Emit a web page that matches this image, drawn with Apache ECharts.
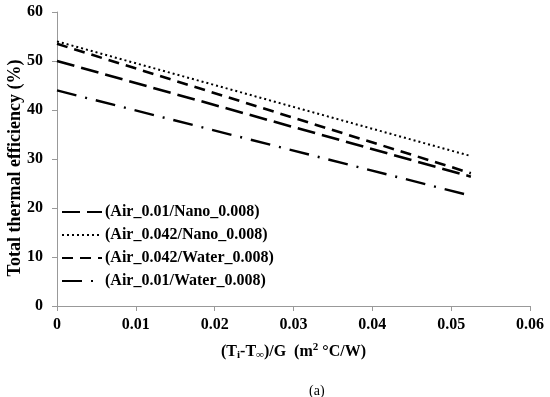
<!DOCTYPE html>
<html><head><meta charset="utf-8">
<script src="https://cdn.jsdelivr.net/npm/echarts@6/dist/echarts.min.js"></script>
<style>html,body{margin:0;padding:0;background:#fff}#c{width:550px;height:397px}</style>
</head><body><div id="c"></div>
<script>
const xValues = [0, 0.0525];
const seriesNames = ['(Air_0.01/Nano_0.008)', '(Air_0.042/Nano_0.008)', '(Air_0.042/Water_0.008)', '(Air_0.01/Water_0.008)'];
const airNano001 = [50, 26.4];
const airNano0042 = [54, 30.6];
const airWater0042 = [53.5, 27.1];
const airWater001 = [44, 22.5];
const yTicks = [0, 10, 20, 30, 40, 50, 60];
const xTicks = [0, 0.01, 0.02, 0.03, 0.04, 0.05, 0.06];
const yTitle = 'Total thermal efficiency (%)';

const font = 'Liberation Serif';
const toPairs = v => xValues.map((x, i) => [x, v[i]]);
const styles = [
  {type: [18, 7], width: 2.6},
  {type: [2, 3], width: 2},
  {type: [11, 7], width: 2.6},
  {type: [20, 9, 2, 9], width: 2.4}
];
const data = [airNano001, airNano0042, airWater0042, airWater001];

const chart = echarts.init(document.getElementById('c'));
chart.setOption({
  animation: false,
  grid: {left: 57, right: 20, top: 12, bottom: 91, containLabel: false, outerBoundsMode: 'none'},
  title: {text: '(a)', left: 304, top: 379, textStyle: {fontFamily: font, fontSize: 14, fontWeight: 'normal', color: '#000'}},
  graphic: [{
    type: 'text', x: 15, y: 168, rotation: Math.PI / 2,
    style: {text: yTitle, fontFamily: font, fontSize: 18, fontWeight: 'bold', fill: '#000', align: 'center', verticalAlign: 'middle'}
  }],
  legend: {
    orient: 'vertical', left: 56, top: 199, itemGap: 7, itemWidth: 40, itemHeight: 17,
    data: seriesNames,
    itemStyle: {opacity: 0},
    textStyle: {fontFamily: font, fontSize: 16, fontWeight: 'bold', color: '#000', padding: [0, 0, 0, -2]}
  },
  xAxis: {
    type: 'value', min: 0, max: 0.06, interval: 0.01,
    axisLine: {lineStyle: {color: '#999'}},
    axisTick: {show: true, lineStyle: {color: '#999'}, length: 5},
    splitLine: {show: false},
    axisLabel: {fontFamily: font, fontSize: 16, fontWeight: 'bold', color: '#000', margin: 11,
      formatter: v => { const s = xTicks.find(t => Math.abs(t - v) < 1e-9); return s === undefined ? '' : String(s); }},
    name: '(T{sub|i}-T{sub|∞})/G  (m{sup|2} °C/W)',
    nameLocation: 'middle', nameGap: 36,
    nameTextStyle: {fontFamily: font, fontSize: 16, fontWeight: 'bold', color: '#000',
      rich: {
        sub: {fontFamily: font, fontSize: 11, fontWeight: 'bold', color: '#000', verticalAlign: 'bottom', padding: [8, 0, 0, 0]},
        sup: {fontFamily: font, fontSize: 11, fontWeight: 'bold', color: '#000', verticalAlign: 'top', padding: [0, 0, 8, 0]}
      }}
  },
  yAxis: {
    type: 'value', min: 0, max: 60, interval: 10,
    axisLine: {show: true, lineStyle: {color: '#999'}},
    axisTick: {show: true, lineStyle: {color: '#999'}, length: 5},
    splitLine: {show: false},
    axisLabel: {fontFamily: font, fontSize: 16, fontWeight: 'bold', color: '#000', margin: 14,
      formatter: v => yTicks.includes(v) ? String(v) : ''}
  },
  series: seriesNames.map((n, i) => ({
    name: n, type: 'line', data: toPairs(data[i]), showSymbol: false, symbol: 'none',
    lineStyle: {color: '#000', width: styles[i].width, type: styles[i].type},
    itemStyle: {color: '#000'}
  }))
});
</script></body></html>
